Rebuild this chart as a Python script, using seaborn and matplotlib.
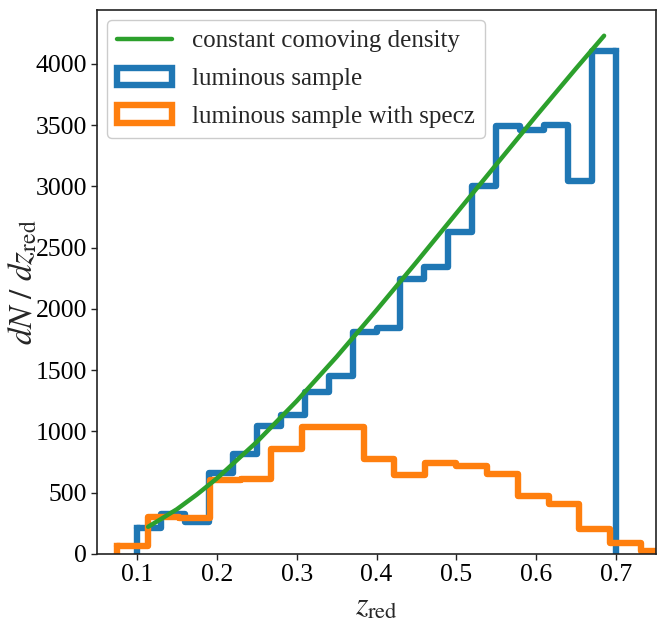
import numpy as np
import matplotlib
matplotlib.use("Agg")
import matplotlib.pyplot as plt
import seaborn as sns
from matplotlib.patches import Patch
from matplotlib.lines import Line2D

# ---- data ----
lum_edges = [0.10, 0.13, 0.16, 0.19, 0.22, 0.25, 0.28, 0.31, 0.34, 0.37, 0.40,
             0.43, 0.46, 0.49, 0.52, 0.55, 0.58, 0.61, 0.64, 0.67, 0.70]
lum_counts = [214, 326, 258, 663, 815, 1043, 1135, 1320, 1453, 1809,
              1845, 2244, 2342, 2632, 3007, 3496, 3461, 3504, 3048, 4102]

spec_edges = [0.0754, 0.1140, 0.1526, 0.1911, 0.2297, 0.2683, 0.3068, 0.3454,
              0.3840, 0.4225, 0.4611, 0.4997, 0.5382, 0.5768, 0.6154, 0.6539,
              0.6925, 0.7311, 0.7697]
spec_counts = [68, 304, 293, 605, 614, 856, 1035, 1040, 776, 646, 744, 720,
               654, 475, 410, 206, 92, 22]

model_z = [0.114, 0.13, 0.15, 0.175, 0.2, 0.25, 0.3, 0.35, 0.4, 0.45, 0.5,
           0.55, 0.6, 0.65, 0.685]
model_n = [222, 285, 365, 485, 616, 914, 1248, 1609, 1990, 2382, 2781,
           3179, 3576, 3964, 4230]

labels = ["constant comoving density", "luminous sample",
          "luminous sample with specz"]
colors = ["#2ca02c", "#1f77b4", "#ff7f0e"]

# ---- style ----
sns.set_style("ticks")
plt.rcParams["font.family"] = ["Liberation Serif", "DejaVu Serif"]
plt.rcParams["mathtext.fontset"] = "stix"

fig, ax = plt.subplots(figsize=(6.65, 6.24), dpi=100)
fig.subplots_adjust(left=97 / 665, right=656 / 665, top=1 - 10 / 624,
                    bottom=1 - 554 / 624)

hist_lw = 4.6


def draw_hist(edges, counts, color):
    centers = [(a + b) / 2 for a, b in zip(edges[:-1], edges[1:])]
    sns.histplot(x=centers, weights=counts, bins=edges, element="step",
                 fill=False, color=color, linewidth=hist_lw, ax=ax)
    # outer drops of the step outline down to zero
    ax.vlines([edges[0], edges[-1]], 0, [counts[0], counts[-1]],
              colors=color, linewidth=hist_lw, capstyle="projecting")


draw_hist(lum_edges, lum_counts, colors[1])
draw_hist(spec_edges, spec_counts, colors[2])
sns.lineplot(x=model_z, y=model_n, color=colors[0], linewidth=3.2, ax=ax,
             sort=False)

ax.set_xlim(0.05, 0.75)
ax.set_ylim(0, 4440)
ax.set_xticks([0.1, 0.2, 0.3, 0.4, 0.5, 0.6, 0.7])
ax.set_yticks([0, 500, 1000, 1500, 2000, 2500, 3000, 3500, 4000])
ax.tick_params(labelsize=18.5, length=4, width=1, colors="#222222",
               labelcolor="black", pad=3)
for s in ax.spines.values():
    s.set_visible(True)
    s.set_linewidth(1.2)
    s.set_color("#222222")

ax.set_xlabel(r"$z_{\rm red}$", fontsize=23, labelpad=5)
ax.set_ylabel(r"$dN\ /\ dz_{\rm red}$", fontsize=24)
ax.yaxis.set_label_coords(-0.103, 0.5)

handles = [
    Line2D([], [], color=colors[0], linewidth=3.2),
    Patch(facecolor="white", edgecolor=colors[1], linewidth=hist_lw),
    Patch(facecolor="white", edgecolor=colors[2], linewidth=hist_lw),
]
leg = ax.legend(handles, labels, loc="upper left", fontsize=18,
                frameon=True, fancybox=True, framealpha=1.0,
                borderaxespad=0.4, handlelength=2.2, labelspacing=0.6)
leg.get_frame().set_edgecolor("#cccccc")

fig.savefig("out.png", dpi=100)
